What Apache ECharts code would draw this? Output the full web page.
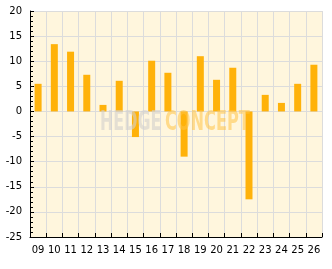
<!DOCTYPE html>
<html>
<head>
<meta charset="utf-8">
<script src="https://cdn.jsdelivr.net/npm/echarts@6/dist/echarts.min.js"></script>
<style>html,body{margin:0;padding:0;background:#fff}#c{width:332px;height:269px}</style>
</head>
<body>
<div id="c"></div>
<script>
var categories = ['09','10','11','12','13','14','15','16','17','18','19','20','21','22','23','24','25','26'];
var values = [5.5, 13.4, 11.9, 7.3, 1.3, 6.1, -5.1, 10.1, 7.7, -9.0, 11.0, 6.3, 8.7, -17.5, 3.3, 1.7, 5.5, 9.3];
var yMin = -25, yMax = 20, yStep = 5;

var chart = echarts.init(document.getElementById('c'), null, {renderer: 'canvas'});
var font = 'DejaVu Sans';
chart.setOption({
  animation: false,
  backgroundColor: '#ffffff',
  grid: {left: 30, right: 10, top: 11, bottom: 32, show: true, backgroundColor: '#FFF6DD', borderWidth: 0},
  xAxis: {
    type: 'category',
    data: categories,
    boundaryGap: true,
    axisLine: {show: true, onZero: false, lineStyle: {color: '#000', width: 1}},
    axisTick: {show: true, inside: true, length: 4, alignWithLabel: false, lineStyle: {color: '#000'}},
    axisLabel: {color: '#000', fontFamily: font, fontSize: 10, margin: 8, interval: 0},
    splitLine: {show: true, interval: 0, lineStyle: {color: '#DCDCDC', width: 1}}
  },
  yAxis: {
    type: 'value',
    min: yMin, max: yMax, interval: yStep,
    axisLine: {show: true, lineStyle: {color: '#000', width: 1}},
    axisTick: {show: true, inside: true, length: 4, lineStyle: {color: '#000'}},
    minorTick: {show: true, splitNumber: 5, length: 3, lineStyle: {color: '#000'}},
    axisLabel: {color: '#000', fontFamily: font, fontSize: 10, margin: 8},
    splitLine: {show: true, lineStyle: {color: '#DCDCDC', width: 1}}
  },
  series: [{
    type: 'bar',
    data: values,
    barWidth: 7,
    itemStyle: {color: '#FFB20A'},
    z: 2
  }],
  graphic: [
    {type: 'text', x: 100, y: 110, scaleX: 0.68, z: 100, silent: true,
     style: {text: 'HEDGE', font: 'bold 26px "DejaVu Sans Condensed"', fill: 'rgba(210,208,205,0.6)', textVerticalAlign: 'top'}},
    {type: 'text', x: 165, y: 110, scaleX: 0.69, z: 100, silent: true,
     style: {text: 'CONCEPT', font: 'bold 26px "DejaVu Sans Condensed"', fill: 'rgba(255,195,70,0.55)', textVerticalAlign: 'top'}}
  ]
});
</script>
</body>
</html>
